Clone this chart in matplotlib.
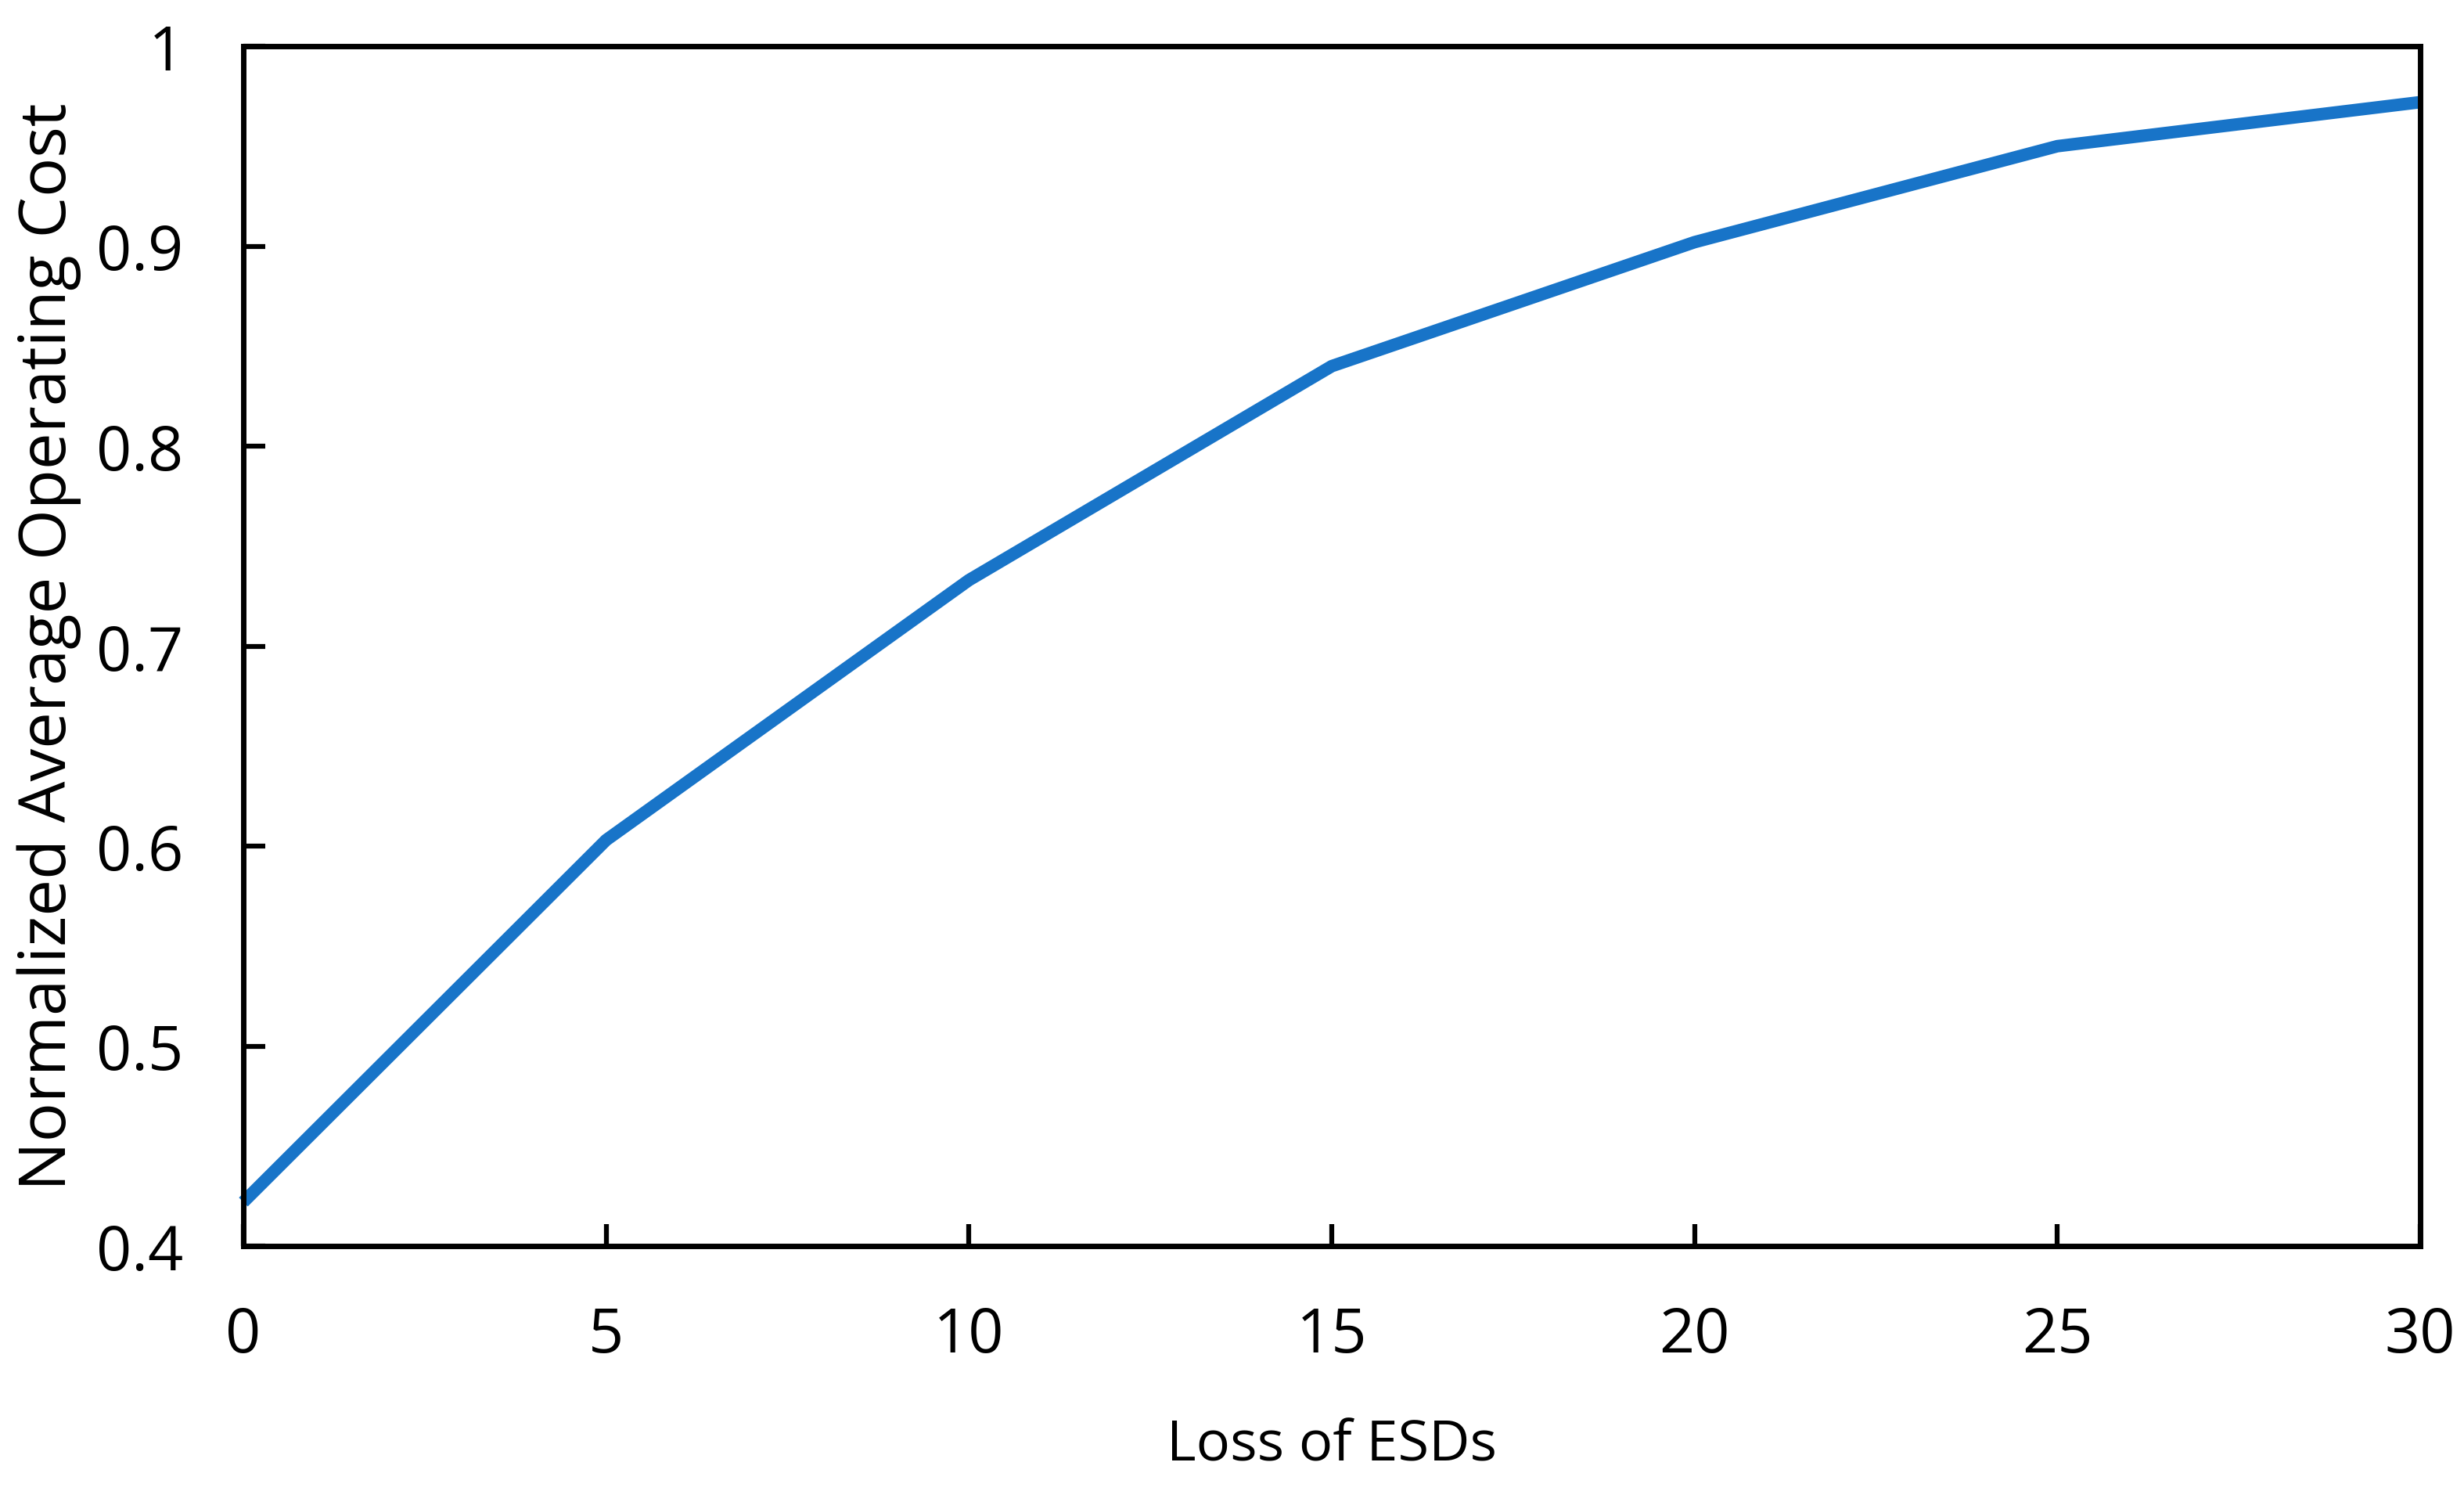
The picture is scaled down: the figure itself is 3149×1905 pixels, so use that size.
import matplotlib.pyplot as plt

# data
loss_esds = [0, 5, 10, 15, 20, 25, 30]
norm_cost = [0.422, 0.603, 0.733, 0.840, 0.902, 0.950, 0.972]

x_ticks = [0, 5, 10, 15, 20, 25, 30]
y_ticks = [0.4, 0.5, 0.6, 0.7, 0.8, 0.9, 1.0]
y_tick_labels = ['0.4', '0.5', '0.6', '0.7', '0.8', '0.9', '1']

plt.rcParams['font.family'] = ['Open Sans', 'DejaVu Sans']

fig = plt.figure(figsize=(31.49, 19.06), dpi=100)
ax = fig.add_axes([311 / 3149, 1 - 1593 / 1906, (3093 - 311) / 3149, (1593 - 60) / 1906])

ax.plot(loss_esds, norm_cost, color='#1874c8', linewidth=11.5, solid_capstyle='butt', clip_on=False)

ax.set_xlim(0, 30)
ax.set_ylim(0.4, 1.0)
ax.set_xticks(x_ticks)
ax.set_yticks(y_ticks)
ax.set_yticklabels(y_tick_labels)

ax.tick_params(direction='in', length=20, width=4.5, labelsize=57, colors='black')
ax.tick_params(axis='x', pad=54)
ax.tick_params(axis='y', pad=55)
for s in ax.spines.values():
    s.set_linewidth(5)

ax.set_xlabel('Loss of ESDs', fontsize=52, labelpad=47)
ax.set_ylabel('Normalized Average Operating Cost', fontsize=60, labelpad=14)

fig.savefig('out.png', dpi=100)
